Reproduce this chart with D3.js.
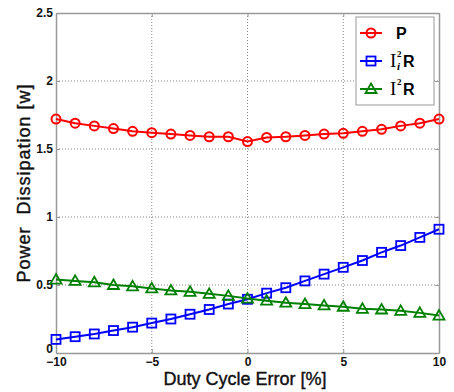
<!DOCTYPE html>
<html>
<head>
<meta charset="utf-8">
<script src="https://cdn.jsdelivr.net/npm/d3@7"></script>
<style>
  body { margin: 0; background: #fff; }
  text { font-family: Arial, "Liberation Sans", sans-serif; }
</style>
</head>
<body>
<script>
const w = 454;
const h = 392;

// data
const dutyError = [-10, -9, -8, -7, -6, -5, -4, -3, -2, -1, 0, 1, 2, 3, 4, 5, 6, 7, 8, 9, 10];
const pTotal = [1.72, 1.69, 1.67, 1.65, 1.63, 1.62, 1.61, 1.60, 1.59, 1.59, 1.555,
                1.585, 1.59, 1.60, 1.61, 1.615, 1.63, 1.645, 1.67, 1.69, 1.72];
const iiR = [0.10, 0.12, 0.14, 0.165, 0.19, 0.22, 0.25, 0.285, 0.32, 0.36, 0.395,
             0.44, 0.48, 0.53, 0.58, 0.63, 0.68, 0.74, 0.79, 0.85, 0.91];
const i2R = [0.54, 0.53, 0.52, 0.50, 0.49, 0.475, 0.46, 0.45, 0.435, 0.42, 0.40,
             0.385, 0.37, 0.36, 0.35, 0.34, 0.325, 0.32, 0.31, 0.295, 0.275];
const xTicks = [-10, -5, 0, 5, 10];
const yTicks = [0, 0.5, 1, 1.5, 2, 2.5];

const margin = {left: 56, right: 15, top: 13, bottom: 39};

const svg = d3.select("body").append("svg")
              .attr("width", w)
              .attr("height", h)

const x = d3.scaleLinear().domain([-10, 10]).range([margin.left, w - margin.right])
const y = d3.scaleLinear().domain([0, 2.5]).range([h - margin.bottom, margin.top])

// grid
svg.append("g").selectAll("line")
   .data(xTicks.slice(1, -1))
   .enter().append("line")
   .attr("x1", d => x(d)).attr("x2", d => x(d))
   .attr("y1", y(0)).attr("y2", y(2.5))
   .attr("stroke", "#888").attr("stroke-dasharray", "1,2")
svg.append("g").selectAll("line")
   .data(yTicks.slice(1, -1))
   .enter().append("line")
   .attr("x1", x(-10)).attr("x2", x(10))
   .attr("y1", d => y(d)).attr("y2", d => y(d))
   .attr("stroke", "#888").attr("stroke-dasharray", "1,2")

// axes
const xAxis = svg.append("g")
   .attr("transform", "translate(0," + y(0) + ")")
   .call(d3.axisBottom(x).tickValues(xTicks).tickSizeInner(-4).tickSizeOuter(0).tickPadding(4))
const yAxis = svg.append("g")
   .attr("transform", "translate(" + x(-10) + ",0)")
   .call(d3.axisLeft(y).tickValues(yTicks).tickFormat(d3.format("")).tickSizeInner(-4).tickSizeOuter(0).tickPadding(3))
svg.append("g")
   .attr("transform", "translate(0," + y(2.5) + ")")
   .call(d3.axisTop(x).tickValues(xTicks).tickSizeInner(-4).tickSizeOuter(0).tickFormat(""))
svg.append("g")
   .attr("transform", "translate(" + x(10) + ",0)")
   .call(d3.axisRight(y).tickValues(yTicks).tickSizeInner(-4).tickSizeOuter(0).tickFormat(""))

svg.selectAll(".domain").attr("stroke", "#999").attr("stroke-width", 1.5)
svg.selectAll(".tick line").attr("stroke", "#999")
svg.selectAll(".tick text")
   .attr("fill", "#111")
   .style("font-size", "12px")
   .style("font-weight", "bold")
yAxis.selectAll(".tick text").attr("dy", "0.32em")
yAxis.selectAll(".tick").filter(d => d === 0).select("text").attr("dy", "-0.05em")
xAxis.selectAll(".tick text").attr("dy", "0.75em")

// axis titles
svg.append("text")
   .attr("x", 245)
   .attr("y", 385)
   .attr("text-anchor", "middle")
   .style("font-size", "18px")
   .attr("fill", "#111")
   .attr("stroke", "#111")
   .attr("stroke-width", 0.4)
   .text("Duty Cycle Error [%]")
svg.append("text")
   .attr("transform", "translate(30,183) rotate(-90)")
   .attr("text-anchor", "middle")
   .style("font-size", "18px")
   .style("letter-spacing", "1px")
   .attr("fill", "#111")
   .attr("stroke", "#111")
   .attr("stroke-width", 0.4)
   .style("white-space", "pre")
   .text("Power  Dissipation [w]")

const series = [
    {name: "P", values: pTotal, color: "#ff0000", marker: "circle"},
    {name: "Ii2R", values: iiR, color: "#0000ff", marker: "square"},
    {name: "I2R", values: i2R, color: "#008000", marker: "triangle"}
]

function drawMarker(g, type, color) {
    if (type === "circle") {
        g.append("circle").attr("r", 4.5)
         .attr("fill", "none").attr("stroke", color).attr("stroke-width", 2)
    } else if (type === "square") {
        g.append("rect").attr("x", -4.5).attr("y", -4.5).attr("width", 9).attr("height", 9)
         .attr("fill", "none").attr("stroke", color).attr("stroke-width", 1.8)
    } else {
        g.append("path").attr("d", "M0,-5.5L5.5,4L-5.5,4Z")
         .attr("fill", "none").attr("stroke", color).attr("stroke-width", 1.8)
    }
}

const line = d3.line().x((d, i) => x(dutyError[i])).y(d => y(d))

series.forEach(s => {
    svg.append("path")
       .datum(s.values)
       .attr("d", line)
       .attr("fill", "none")
       .attr("stroke", s.color)
       .attr("stroke-width", 2)
    svg.append("g").selectAll("g")
       .data(s.values)
       .enter().append("g")
       .attr("transform", (d, i) => "translate(" + x(dutyError[i]) + "," + y(d) + ")")
       .each(function () { drawMarker(d3.select(this), s.marker, s.color) })
})

// legend
const legend = svg.append("g").attr("transform", "translate(356,17)")
legend.append("rect")
      .attr("width", 78).attr("height", 88)
      .attr("fill", "#fff").attr("stroke", "#999")

const items = legend.selectAll("g.item")
      .data(series)
      .enter().append("g")
      .attr("class", "item")
      .attr("transform", (d, i) => "translate(0," + (16 + i * 28) + ")")
items.append("line")
     .attr("x1", 4).attr("x2", 26)
     .attr("stroke", d => d.color).attr("stroke-width", 2)
items.each(function (d) {
    const g = d3.select(this).append("g").attr("transform", "translate(15,0)")
    drawMarker(g, d.marker, d.color)
})

const serif = "'Liberation Serif', 'DejaVu Serif', serif"
const sans = "Arial, 'Liberation Sans', sans-serif"

legend.append("text")
      .attr("x", 40).attr("y", 22)
      .style("font-size", "16px").style("font-weight", "bold")
      .text("P")

// I_i^2 R: superscript and subscript stacked after the I
const t2 = legend.append("g").attr("transform", "translate(34,50)")
t2.append("text").style("font-family", serif).style("font-size", "19px").text("I")
t2.append("text").attr("x", 7).attr("y", -10).style("font-family", serif)
  .style("font-size", "9px").style("font-weight", "bold").text("2")
t2.append("text").attr("x", 7).attr("y", 3).style("font-family", serif)
  .style("font-size", "11px").style("font-weight", "bold").style("font-style", "italic").text("i")
t2.append("text").attr("x", 13).attr("y", 0).style("font-family", sans)
  .style("font-size", "16px").style("font-weight", "bold").text("R")

const t3 = legend.append("g").attr("transform", "translate(34,78)")
t3.append("text").style("font-family", serif).style("font-size", "19px").text("I")
t3.append("text").attr("x", 7).attr("y", -10).style("font-family", serif)
  .style("font-size", "9px").style("font-weight", "bold").text("2")
t3.append("text").attr("x", 13).attr("y", 0).style("font-family", sans)
  .style("font-size", "16px").style("font-weight", "bold").text("R")
</script>
</body>
</html>
